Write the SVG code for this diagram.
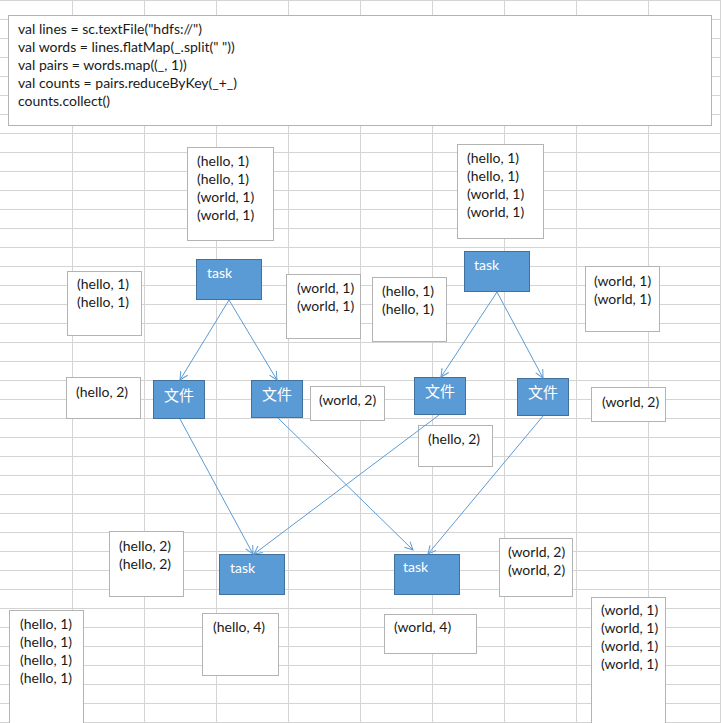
<svg xmlns="http://www.w3.org/2000/svg" width="721" height="723" viewBox="0 0 721 723">
<style>
.grid{stroke:#d4d4d4;stroke-width:1;fill:none}
.box{fill:#fff;stroke:#b3b3b3;stroke-width:1}
.task{fill:#5b9bd5;stroke:#41719c;stroke-width:1}
.t{font-family:Lato,"Liberation Sans",sans-serif;font-size:14px;fill:#1a1a1a}
.tw{font-family:Lato,"Liberation Sans",sans-serif;font-size:14px;fill:#fff}
.cj{font-family:"Noto Sans CJK SC",sans-serif;font-size:15px;fill:#fff}
.conn{stroke:#5b9bd5;stroke-width:1;fill:none;marker-end:url(#arr)}
</style>
<defs>
<marker id="arr" viewBox="0 0 10 10" refX="9" refY="5" markerWidth="10" markerHeight="10" markerUnits="userSpaceOnUse" orient="auto">
<path d="M1,1 L9,5 L1,9" fill="none" stroke="#5b9bd5" stroke-width="1"/>
</marker>
</defs>
<rect width="721" height="723" fill="#fff"/>
<path class="grid" d="M72.5,0V723M144.5,0V723M216.5,0V723M288.5,0V723M360.5,0V723M432.5,0V723M504.5,0V723M576.5,0V723M648.5,0V723M720.5,0V723
M0,0.5H721M0,19.5H721M0,38.5H721M0,57.5H721M0,76.5H721M0,95.5H721M0,114.5H721M0,133.5H721M0,152.5H721M0,171.5H721M0,190.5H721M0,209.5H721M0,228.5H721M0,247.5H721M0,266.5H721M0,285.5H721M0,304.5H721M0,323.5H721M0,342.5H721M0,361.5H721M0,380.5H721M0,399.5H721M0,418.5H721M0,437.5H721M0,456.5H721M0,475.5H721M0,494.5H721M0,513.5H721M0,532.5H721M0,551.5H721M0,570.5H721M0,589.5H721M0,608.5H721M0,627.5H721M0,646.5H721M0,665.5H721M0,684.5H721M0,703.5H721M0,722.5H721"/>

<g id="code">
<rect class="box" x="8.5" y="15.5" width="703" height="110"/>
<text class="t" x="18" y="34">val lines = sc.textFile("hdfs://")</text>
<text class="t" x="18" y="52">val words = lines.flatMap(_.split(" "))</text>
<text class="t" x="18" y="70">val pairs = words.map((_, 1))</text>
<text class="t" x="18" y="88">val counts = pairs.reduceByKey(_+_)</text>
<text class="t" x="18" y="106">counts.collect()</text>
</g>

<g id="data1">
<rect class="box" x="187.5" y="147.5" width="86" height="93"/>
<text class="t" x="197" y="166">(hello, 1)</text>
<text class="t" x="197" y="184">(hello, 1)</text>
<text class="t" x="197" y="202">(world, 1)</text>
<text class="t" x="197" y="220">(world, 1)</text>
</g>
<g id="data2">
<rect class="box" x="457.5" y="144.5" width="86" height="94"/>
<text class="t" x="467" y="163">(hello, 1)</text>
<text class="t" x="467" y="181">(hello, 1)</text>
<text class="t" x="467" y="199">(world, 1)</text>
<text class="t" x="467" y="217">(world, 1)</text>
</g>

<g id="task1">
<rect class="task" x="196.5" y="259.5" width="65" height="40"/>
<text class="tw" x="207" y="278">task</text>
</g>
<g id="task2">
<rect class="task" x="464.5" y="251.5" width="65" height="40"/>
<text class="tw" x="474" y="270">task</text>
</g>

<g id="m1">
<rect class="box" x="67.5" y="271.5" width="74" height="64"/>
<text class="t" x="77" y="289">(hello, 1)</text>
<text class="t" x="77" y="307">(hello, 1)</text>
</g>
<g id="m2">
<rect class="box" x="286.5" y="274.5" width="74" height="64"/>
<text class="t" x="297" y="293">(world, 1)</text>
<text class="t" x="297" y="311">(world, 1)</text>
</g>
<g id="m3">
<rect class="box" x="372.5" y="277.5" width="74" height="64"/>
<text class="t" x="382" y="296">(hello, 1)</text>
<text class="t" x="382" y="314">(hello, 1)</text>
</g>
<g id="m4">
<rect class="box" x="585.5" y="266.5" width="74" height="65"/>
<text class="t" x="594" y="286">(world, 1)</text>
<text class="t" x="594" y="304">(world, 1)</text>
</g>

<g id="r1">
<rect class="box" x="66.5" y="377.5" width="74" height="41"/>
<text class="t" x="76" y="397">(hello, 2)</text>
</g>
<g id="r2">
<rect class="box" x="310.5" y="386.5" width="74" height="34"/>
<text class="t" x="319" y="405">(world, 2)</text>
</g>
<g id="r3">
<rect class="box" x="591.5" y="387.5" width="74" height="34"/>
<text class="t" x="602" y="407">(world, 2)</text>
</g>
<g id="r4">
<rect class="box" x="418.5" y="425.5" width="74" height="41"/>
<text class="t" x="428" y="444">(hello, 2)</text>
</g>

<g id="file1">
<rect class="task" x="153.5" y="380.5" width="51" height="38"/>
<text class="cj" x="179" y="401" text-anchor="middle">文件</text>
</g>
<g id="file2">
<rect class="task" x="251.5" y="380.5" width="51" height="37"/>
<text class="cj" x="277" y="400" text-anchor="middle">文件</text>
</g>
<g id="file3">
<rect class="task" x="414.5" y="377.5" width="51" height="37"/>
<text class="cj" x="440" y="397" text-anchor="middle">文件</text>
</g>
<g id="file4">
<rect class="task" x="517.5" y="378.5" width="51" height="37"/>
<text class="cj" x="543" y="398" text-anchor="middle">文件</text>
</g>

<g id="s1">
<rect class="box" x="109.5" y="531.5" width="74" height="65"/>
<text class="t" x="119" y="551">(hello, 2)</text>
<text class="t" x="119" y="569">(hello, 2)</text>
</g>
<g id="s2">
<rect class="box" x="499.5" y="538.5" width="73" height="58"/>
<text class="t" x="508" y="557">(world, 2)</text>
<text class="t" x="508" y="575">(world, 2)</text>
</g>

<g id="task3">
<rect class="task" x="219.5" y="554.5" width="65" height="40"/>
<text class="tw" x="230" y="573">task</text>
</g>
<g id="task4">
<rect class="task" x="394.5" y="554.5" width="65" height="40"/>
<text class="tw" x="403" y="572">task</text>
</g>

<g id="res1">
<rect class="box" x="202.5" y="613.5" width="76" height="62"/>
<text class="t" x="213" y="632">(hello, 4)</text>
</g>
<g id="res2">
<rect class="box" x="384.5" y="614.5" width="92" height="39"/>
<text class="t" x="394" y="632">(world, 4)</text>
</g>
<g id="all1">
<rect class="box" x="9.5" y="610.5" width="74" height="120"/>
<text class="t" x="20" y="629">(hello, 1)</text>
<text class="t" x="20" y="647">(hello, 1)</text>
<text class="t" x="20" y="665">(hello, 1)</text>
<text class="t" x="20" y="683">(hello, 1)</text>
</g>
<g id="all2">
<rect class="box" x="591.5" y="597.5" width="74" height="130"/>
<text class="t" x="601" y="615">(world, 1)</text>
<text class="t" x="601" y="633">(world, 1)</text>
<text class="t" x="601" y="651">(world, 1)</text>
<text class="t" x="601" y="669">(world, 1)</text>
</g>

<g id="connectors">
<line class="conn" x1="229" y1="300" x2="180" y2="380"/>
<line class="conn" x1="229" y1="300" x2="277" y2="380"/>
<line class="conn" x1="497" y1="292" x2="441" y2="377"/>
<line class="conn" x1="497" y1="292" x2="543" y2="378"/>
<line class="conn" x1="180" y1="419" x2="253" y2="554"/>
<line class="conn" x1="278" y1="418" x2="413" y2="550"/>
<line class="conn" x1="439" y1="415" x2="254" y2="554"/>
<line class="conn" x1="543" y1="416" x2="428" y2="554"/>
</g>
</svg>
